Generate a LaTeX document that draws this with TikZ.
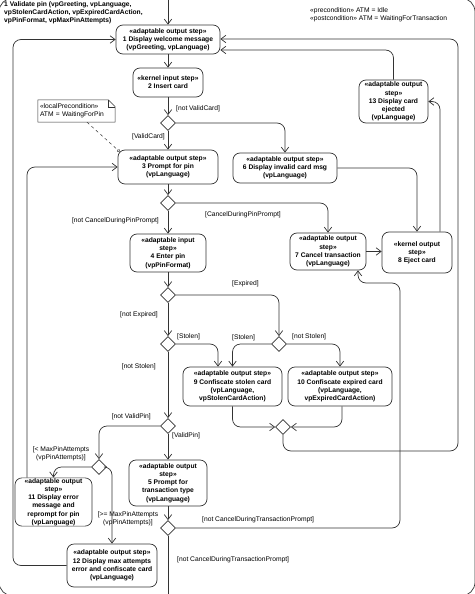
\documentclass[tikz,border=0pt]{standalone}
\usepackage{fontspec}
\setmainfont{Liberation Sans}
\usetikzlibrary{positioning,arrows.meta,shapes.geometric}
\tikzset{
  stepbox/.style={rectangle, rounded corners=7pt, draw=black!80, line width=0.7pt, inner sep=0.5pt, align=center, font=\fontsize{6.7}{8.2}\selectfont\bfseries},
  decision/.style={diamond, draw=black!80, line width=0.7pt, minimum width=15pt, minimum height=15pt, inner sep=0pt},
  guard/.style={inner sep=0pt, font=\fontsize{6.7}{8.2}\selectfont, align=center},
  notebox/.style={inner sep=2pt, text width=73pt, minimum height=22pt, align=left, font=\fontsize{6.7}{8.2}\selectfont},
  flow/.style={-{Straight Barb[length=5pt,width=7.5pt]}, line width=0.7pt, draw=black!80, rounded corners=8pt},
  anchorline/.style={dashed, line width=0.5pt, draw=black!80, -{Circle[open,length=3pt]}},
}
\begin{document}
\begin{tikzpicture}[x=1pt, y=-1pt]
  \useasboundingbox (0,0) rectangle (474,594);
  % enclosing activity node
  \draw[line width=0.7pt, draw=black!80, rounded corners=14pt] (-1,-2) rectangle (475,596);
  \node[guard, font=\fontsize{6.7}{8.2}\selectfont\bfseries, align=left, anchor=north west] (activity) at (4,1.5) {1 Validate pin (vpGreeting, vpLanguage,\\vpStolenCardAction, vpExpiredCardAction,\\vpPinFormat, vpMaxPinAttempts)};
  \node[guard, align=left, anchor=north west] (conditions) at (310,7) {«precondition» ATM = Idle\\«postcondition» ATM = WaitingForTransaction};

  % steps
  \node[stepbox, minimum width=104pt, minimum height=29pt] (welcome) at (168,39.5) {«adaptable output step»\\1 Display welcome message\\(vpGreeting, vpLanguage)};
  \node[stepbox, minimum width=70pt, minimum height=29pt] (insert) at (168,82.5) {«kernel input step»\\2 Insert card};
  \node[stepbox, minimum width=69pt, minimum height=43pt] (cardejected) at (393.5,101.5) {«adaptable output\\step»\\13 Display card\\ejected\\(vpLanguage)};
  \node[stepbox, minimum width=100pt, minimum height=34pt] (promptpin) at (168,167) {«adaptable output step»\\3 Prompt for pin\\(vpLanguage)};
  \node[stepbox, minimum width=104pt, minimum height=30pt] (invalidmsg) at (285,168) {«adaptable output step»\\6 Display invalid card msg\\(vpLanguage)};
  \node[stepbox, minimum width=76pt, minimum height=37pt] (cancel) at (328,251.5) {«adaptable output\\step»\\7 Cancel transaction\\(vpLanguage)};
  \node[stepbox, minimum width=70pt, minimum height=41pt] (eject) at (417,252.5) {«kernel output\\step»\\8 Eject card};
  \node[stepbox, minimum width=76pt, minimum height=38pt] (enterpin) at (168,253) {«adaptable input\\step»\\4 Enter pin\\(vpPinFormat)};
  \node[stepbox, minimum width=99pt, minimum height=39pt] (stolen) at (232.5,386.5) {«adaptable output step»\\9 Confiscate stolen card\\(vpLanguage,\\vpStolenCardAction)};
  \node[stepbox, minimum width=104pt, minimum height=39pt] (expired) at (340,386.5) {«adaptable output step»\\10 Confiscate expired card\\(vpLanguage,\\vpExpiredCardAction)};
  \node[stepbox, minimum width=78pt, minimum height=46pt] (prompttrans) at (168,483) {«adaptable output\\step»\\5 Prompt for\\transaction type\\(vpLanguage)};
  \node[stepbox, minimum width=77pt, minimum height=48pt] (reprompt) at (53.5,502) {«adaptable output\\step»\\11 Display error\\message and\\reprompt for pin\\(vpLanguage)};
  \node[stepbox, minimum width=90pt, minimum height=43pt] (maxattempts) at (112,565.5) {«adaptable output step»\\12 Display max attempts\\error and confiscate card\\(vpLanguage)};

  % decisions and merge
  \node[decision] (dValidCard) at (168,123) {};
  \node[decision] (dCancelPin) at (168,203) {};
  \node[decision] (dExpired) at (168,295) {};
  \node[decision] (dStolenA) at (168,344) {};
  \node[decision] (dStolenB) at (279,344) {};
  \node[decision] (dMerge) at (283,427) {};
  \node[decision] (dValidPin) at (168,426) {};
  \node[decision] (dMaxPin) at (99,467) {};
  \node[decision] (dCancelTrans) at (168,528) {};

  % note
  \node[notebox] (pinnote) at (76.5,111) {«localPrecondition»\\ATM = WaitingForPin};
  \draw[line width=0.5pt, draw=black!80] (pinnote.north west) -- ([xshift=-7pt]pinnote.north east) -- ([yshift=-7pt]pinnote.north east) -- (pinnote.south east) -- (pinnote.south west) -- cycle;
  \draw[line width=0.5pt, draw=black!80] ([xshift=-7pt]pinnote.north east) |- ([yshift=-7pt]pinnote.north east);
  \draw[anchorline] ([xshift=10.5pt]pinnote.south) -- ([xshift=2pt,yshift=-2pt]promptpin.north west);

  % guards
  \node[guard, anchor=west] (gNotValidCard) at (176,109) {[not ValidCard]};
  \node[guard, anchor=east] (gValidCard) at (165,137) {[ValidCard]};
  \node[guard, anchor=west] (gCancelPin) at (205,215) {[CancelDuringPinPrompt]};
  \node[guard, anchor=east] (gNotCancelPin) at (159,221) {[not CancelDuringPinPrompt]};
  \node[guard, anchor=west] (gExpired) at (232,284) {[Expired]};
  \node[guard, anchor=east] (gNotExpired) at (158,315) {[not Expired]};
  \node[guard, anchor=west] (gStolenA) at (177,337) {[Stolen]};
  \node[guard, anchor=west] (gStolenB) at (232,338) {[Stolen]};
  \node[guard, anchor=west] (gNotStolenB) at (292,337) {[not Stolen]};
  \node[guard, anchor=east] (gNotStolenA) at (156,367) {[not Stolen]};
  \node[guard, anchor=east] (gNotValidPin) at (151,417) {[not ValidPin]};
  \node[guard, anchor=west] (gValidPin) at (172,436) {[ValidPin]};
  \node[guard] (gLessMax) at (61,453.5) {[< MaxPinAttempts\\(vpPinAttempts)]};
  \node[guard] (gMoreMax) at (128,519) {[>= MaxPinAttempts\\(vpPinAttempts)]};
  \node[guard, anchor=west] (gCancelTrans) at (202,520) {[not CancelDuringTransactionPrompt]};
  \node[guard, anchor=west] (gNotCancelTrans) at (177,560) {[not CancelDuringTransactionPrompt]};

  % flows
  \coordinate (entry) at (168,-3);
  \coordinate (exit) at (168,600);
  \draw[flow] (entry) -- (welcome);
  \draw[flow] (welcome) -- (insert);
  \draw[flow] (insert) -- (dValidCard);
  \draw[flow] (dValidCard) -- (promptpin);
  \draw[flow] (dValidCard.east) -| (invalidmsg.north);
  \draw[flow] (invalidmsg.east) -| (eject.north);
  \draw[flow] ([xshift=23pt]eject.north) |- (cardejected.east);
  \draw[flow] (cardejected.north) |- ([yshift=-10.5pt]welcome.east);
  \draw[flow] (promptpin) -- (dCancelPin);
  \draw[flow] (dCancelPin) -- (enterpin);
  \draw[flow] (dCancelPin.east) -| (cancel.north);
  \draw[flow] (cancel.east) -- (cancel.east -| eject.west);
  \draw[flow] (enterpin) -- (dExpired);
  \draw[flow] (dExpired) -- (dStolenA);
  \draw[flow] (dExpired.east) -| (dStolenB.north);
  \draw[flow] (dStolenA.east) -| ([xshift=-14.5pt]stolen.north);
  \draw[flow] (dStolenB.west) -| (stolen.north);
  \draw[flow] (dStolenB.east) -| (expired.north);
  \draw[flow] (stolen.south) |- (dMerge.west);
  \draw[flow] ([xshift=2pt]expired.south) |- (dMerge.east);
  \draw[flow] (dMerge.south) |- (458,451) |- ([yshift=0.5pt]welcome.east);
  \draw[flow] (dStolenA) -- (dValidPin);
  \draw[flow] (dValidPin) -- (prompttrans);
  \draw[flow] (dValidPin.west) -| (dMaxPin.north);
  \draw[flow] (dMaxPin.west) -| (reprompt.north);
  \draw[flow] (dMaxPin.east) -| (maxattempts.north);
  \draw[flow] ([xshift=-26.5pt]reprompt.north) |- (promptpin.west);
  \draw[flow] (maxattempts.west) -| (13,39.5) -- (welcome.west);
  \draw[flow] (prompttrans) -- (dCancelTrans);
  \draw[flow] (dCancelTrans.east) -| (400,283) -| ([xshift=30pt]cancel.south);
  \draw[flow] (dCancelTrans) -- (exit);
\end{tikzpicture}
\end{document}
